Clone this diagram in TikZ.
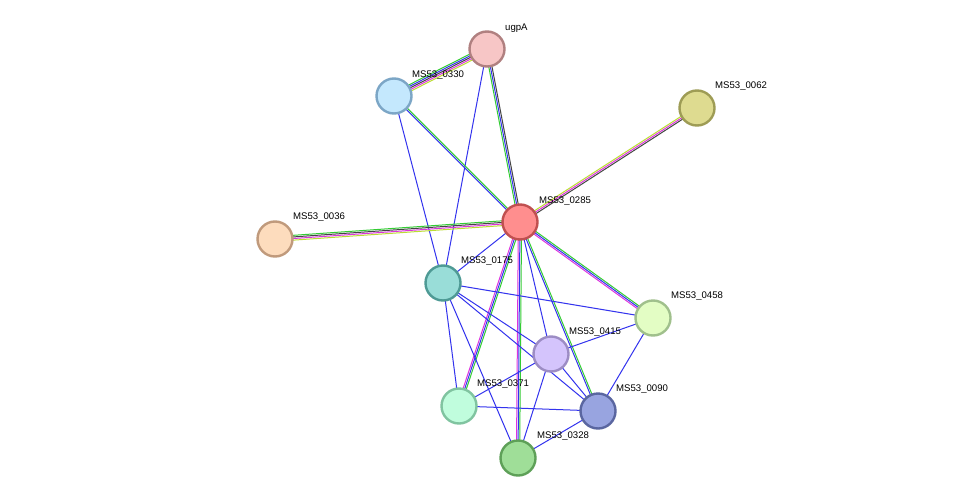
\documentclass[tikz,border=0pt]{standalone}
\usepackage{fontspec}
\setmainfont{Liberation Sans}
\usetikzlibrary{calc,backgrounds}
\definecolor{eg}{HTML}{33CC33}
\definecolor{eb}{HTML}{3333EE}
\definecolor{ek}{HTML}{444444}
\definecolor{em}{HTML}{DD33DD}
\definecolor{ey}{HTML}{BBDD33}
\tikzset{
  prot/.style={circle,minimum size=35pt,line width=2.4pt,inner sep=0pt},
  lab/.style={anchor=south west,font=\fontsize{9.6}{10}\selectfont,inner sep=0pt},
  edge/.style={line width=1pt}
}
\newcommand{\medge}[3]{%
  \foreach \c [count=\i] in {#3} {\global\let\nn\i}%
  \foreach \c [count=\i] in {#3} {%
    \pgfmathsetmacro{\o}{(\i-(\nn+1)/2)*1.6}%
    \draw[edge,\c] ($(#1.center)!\o pt!90:(#2.center)$) -- ($(#2.center)!\o pt!-90:(#1.center)$);
  }}
\begin{document}
\begin{tikzpicture}[x=1pt,y=-1pt]
\useasboundingbox (0,0) rectangle (976,503);
\node[prot,fill={rgb,255:red,247;green,198;blue,198},draw={rgb,255:red,176;green,128;blue,128}] (ugpA) at (487,49) {};
\node[prot,fill={rgb,255:red,196;green,232;blue,253},draw={rgb,255:red,124;green,166;blue,198}] (n0330) at (394,96) {};
\node[prot,fill={rgb,255:red,222;green,219;blue,144},draw={rgb,255:red,158;green,156;blue,85}] (n0062) at (697,108) {};
\node[prot,fill={rgb,255:red,255;green,142;blue,142},draw={rgb,255:red,192;green,80;blue,80}] (n0285) at (520,222) {};
\node[prot,fill={rgb,255:red,253;green,220;blue,189},draw={rgb,255:red,192;green,154;blue,124}] (n0036) at (275,239) {};
\node[prot,fill={rgb,255:red,153;green,221;blue,216},draw={rgb,255:red,78;green,154;blue,149}] (n0175) at (443,283) {};
\node[prot,fill={rgb,255:red,227;green,253;blue,196},draw={rgb,255:red,160;green,192;blue,140}] (n0458) at (653,318) {};
\node[prot,fill={rgb,255:red,212;green,196;blue,252},draw={rgb,255:red,156;green,140;blue,196}] (n0415) at (551,354) {};
\node[prot,fill={rgb,255:red,192;green,253;blue,221},draw={rgb,255:red,128;green,196;blue,160}] (n0371) at (459,406) {};
\node[prot,fill={rgb,255:red,152;green,164;blue,224},draw={rgb,255:red,90;green,102;blue,160}] (n0090) at (598,411) {};
\node[prot,fill={rgb,255:red,159;green,222;blue,152},draw={rgb,255:red,94;green,160;blue,88}] (n0328) at (518,458) {};
\node[lab] (l1) at (505,33) {ugpA};
\node[lab] (l2) at (412,80) {MS53\_0330};
\node[lab] (l3) at (715,91) {MS53\_0062};
\node[lab] (l4) at (539,206) {MS53\_0285};
\node[lab] (l5) at (293,222) {MS53\_0036};
\node[lab] (l6) at (461,266) {MS53\_0175};
\node[lab] (l7) at (671,301) {MS53\_0458};
\node[lab] (l8) at (569,337) {MS53\_0415};
\node[lab] (l9) at (477,389) {MS53\_0371};
\node[lab] (l10) at (616,394) {MS53\_0090};
\node[lab] (l11) at (537,441) {MS53\_0328};
\begin{scope}[on background layer]
\fill[white] (0,0) rectangle (976,503);
\medge{ugpA}{n0330}{eg,eb,ek,em,ey}
\medge{ugpA}{n0285}{eg,eb,ek}
\medge{ugpA}{n0175}{eb}
\medge{n0330}{n0285}{eb,eg}
\medge{n0330}{n0175}{eb}
\medge{n0062}{n0285}{ey,em,ek}
\medge{n0036}{n0285}{ey,em,ek,eg}
\medge{n0285}{n0175}{eb}
\medge{n0285}{n0458}{em,eb,eg}
\medge{n0285}{n0415}{eb}
\medge{n0285}{n0371}{em,eb,eg}
\medge{n0285}{n0328}{em,eb,eg}
\medge{n0285}{n0090}{eb,eg}
\medge{n0175}{n0458}{eb}
\medge{n0175}{n0415}{eb}
\medge{n0175}{n0090}{eb}
\medge{n0175}{n0371}{eb}
\medge{n0175}{n0328}{eb}
\medge{n0415}{n0458}{eb}
\medge{n0415}{n0371}{eb}
\medge{n0415}{n0090}{eb}
\medge{n0415}{n0328}{eb}
\medge{n0458}{n0090}{eb}
\medge{n0371}{n0090}{eb}
\medge{n0328}{n0090}{eb}
\end{scope}
\end{tikzpicture}
\end{document}
